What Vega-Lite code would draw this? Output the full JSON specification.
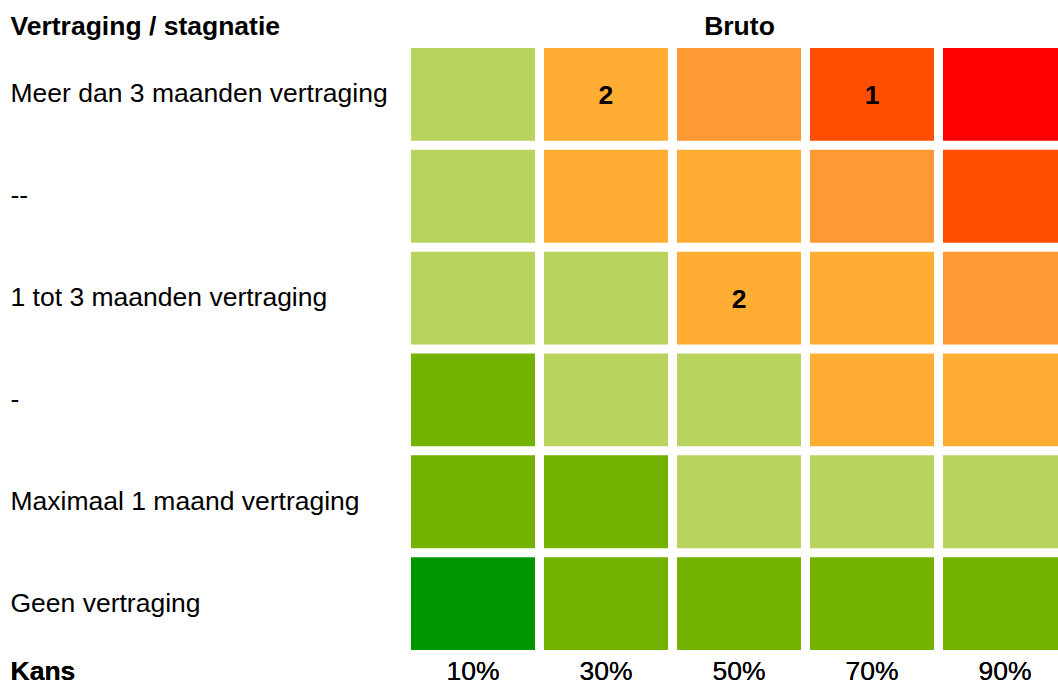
{
  "$schema": "https://vega.github.io/schema/vega-lite/v6.json",
  "autosize": "none",
  "padding": {"left": 411, "top": 48, "right": 0, "bottom": 34},
  "width": 656,
  "height": 602,
  "background": "white",
  "config": {
    "view": {"stroke": null},
    "font": "Liberation Sans",
    "axis": {"domain": false, "ticks": false, "grid": false, "labelColor": "#000000", "titleColor": "#000000"}
  },
  "data": {
    "values": [
      {"row": "Meer dan 3 maanden vertraging", "kans": "10%", "level": 3, "n": ""},
      {"row": "Meer dan 3 maanden vertraging", "kans": "30%", "level": 4, "n": "2"},
      {"row": "Meer dan 3 maanden vertraging", "kans": "50%", "level": 5, "n": ""},
      {"row": "Meer dan 3 maanden vertraging", "kans": "70%", "level": 6, "n": "1"},
      {"row": "Meer dan 3 maanden vertraging", "kans": "90%", "level": 7, "n": ""},
      {"row": "--", "kans": "10%", "level": 3, "n": ""},
      {"row": "--", "kans": "30%", "level": 4, "n": ""},
      {"row": "--", "kans": "50%", "level": 4, "n": ""},
      {"row": "--", "kans": "70%", "level": 5, "n": ""},
      {"row": "--", "kans": "90%", "level": 6, "n": ""},
      {"row": "1 tot 3 maanden vertraging", "kans": "10%", "level": 3, "n": ""},
      {"row": "1 tot 3 maanden vertraging", "kans": "30%", "level": 3, "n": ""},
      {"row": "1 tot 3 maanden vertraging", "kans": "50%", "level": 4, "n": "2"},
      {"row": "1 tot 3 maanden vertraging", "kans": "70%", "level": 4, "n": ""},
      {"row": "1 tot 3 maanden vertraging", "kans": "90%", "level": 5, "n": ""},
      {"row": "-", "kans": "10%", "level": 2, "n": ""},
      {"row": "-", "kans": "30%", "level": 3, "n": ""},
      {"row": "-", "kans": "50%", "level": 3, "n": ""},
      {"row": "-", "kans": "70%", "level": 4, "n": ""},
      {"row": "-", "kans": "90%", "level": 4, "n": ""},
      {"row": "Maximaal 1 maand vertraging", "kans": "10%", "level": 2, "n": ""},
      {"row": "Maximaal 1 maand vertraging", "kans": "30%", "level": 2, "n": ""},
      {"row": "Maximaal 1 maand vertraging", "kans": "50%", "level": 3, "n": ""},
      {"row": "Maximaal 1 maand vertraging", "kans": "70%", "level": 3, "n": ""},
      {"row": "Maximaal 1 maand vertraging", "kans": "90%", "level": 3, "n": ""},
      {"row": "Geen vertraging", "kans": "10%", "level": 1, "n": ""},
      {"row": "Geen vertraging", "kans": "30%", "level": 2, "n": ""},
      {"row": "Geen vertraging", "kans": "50%", "level": 2, "n": ""},
      {"row": "Geen vertraging", "kans": "70%", "level": 2, "n": ""},
      {"row": "Geen vertraging", "kans": "90%", "level": 2, "n": ""}
    ]
  },
  "encoding": {
    "x": {
      "field": "kans", "type": "nominal",
      "sort": ["10%", "30%", "50%", "70%", "90%"],
      "scale": {"paddingInner": 0.0677, "paddingOuter": 0},
      "axis": {
        "orient": "bottom", "labelAngle": 0, "labelFontSize": 26.5, "labelBaseline": "alphabetic", "labelPadding": 29,
        "title": "Kans", "titleFontSize": 26.5, "titleFontWeight": "bold", "titleAlign": "left", "titleBaseline": "alphabetic",
        "titleAnchor": "start", "titleX": -401, "titleY": 29
      }
    },
    "y": {
      "field": "row", "type": "nominal",
      "sort": ["Meer dan 3 maanden vertraging", "--", "1 tot 3 maanden vertraging", "-", "Maximaal 1 maand vertraging", "Geen vertraging"],
      "scale": {"paddingInner": 0.088, "paddingOuter": 0},
      "axis": {
        "labelAlign": "left", "labelPadding": 401, "labelFontSize": 26.5, "labelBaseline": "middle", "labelLimit": 420,
        "title": "Vertraging / stagnatie", "titleAngle": 0, "titleFontSize": 26.5, "titleFontWeight": "bold",
        "titleAlign": "left", "titleBaseline": "alphabetic", "titleAnchor": "start", "titleX": -401, "titleY": -14
      }
    }
  },
  "layer": [
    {
      "mark": {"type": "rect"},
      "encoding": {
        "color": {
          "field": "level", "type": "nominal", "legend": null,
          "scale": {"domain": [1, 2, 3, 4, 5, 6, 7], "range": ["#009600", "#74B200", "#B9D35F", "#FFAD33", "#FF9933", "#FF4E00", "#FF0000"]}
        }
      }
    },
    {
      "mark": {"type": "text", "fontSize": 26.5, "fontWeight": "bold", "color": "#000000", "baseline": "middle", "dy": 2},
      "encoding": {"text": {"field": "n"}}
    },
    {
      "mark": {"type": "text", "opacity": 0},
      "encoding": {
        "x": {
          "field": "kans", "type": "nominal", "sort": ["10%", "30%", "50%", "70%", "90%"],
          "axis": {"orient": "top", "labels": false, "title": "Bruto", "titleFontSize": 26.5, "titleFontWeight": "bold", "titleBaseline": "alphabetic", "titleY": -14}
        },
        "text": {"field": "n"}
      }
    }
  ],
  "resolve": {"axis": {"x": "independent"}}
}
